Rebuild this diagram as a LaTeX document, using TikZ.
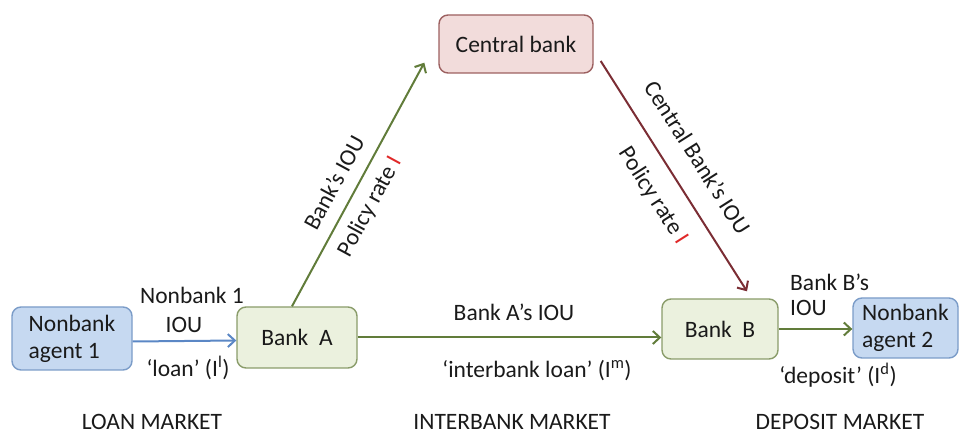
\documentclass[tikz,border=0pt]{standalone}
\usepackage{fontspec}
\setmainfont{Carlito}
\usetikzlibrary{arrows.meta,calc}
\definecolor{txt}{HTML}{1A1A1A}
\definecolor{nbfill}{HTML}{C6D9F1}
\definecolor{nbdraw}{HTML}{7B9CC8}
\definecolor{bkfill}{HTML}{EBF1DE}
\definecolor{bkdraw}{HTML}{8A9C6A}
\definecolor{cbfill}{HTML}{F2DCDB}
\definecolor{cbdraw}{HTML}{9C6060}
\definecolor{garr}{HTML}{617C3A}
\definecolor{barr}{HTML}{5B87C5}
\definecolor{rarr}{HTML}{7B2D34}
\definecolor{redI}{HTML}{E02828}
\begin{document}
\begin{tikzpicture}[x=1pt,y=-1pt,
  every node/.style={font=\fontsize{23.5}{27}\selectfont, text=txt},
  boxbase/.style={rounded corners=9pt, line width=1.4pt, inner sep=0pt},
  nbbox/.style={boxbase, draw=nbdraw, fill=nbfill, align=left},
  bankbox/.style={boxbase, draw=bkdraw, fill=bkfill},
  cbbox/.style={boxbase, draw=cbdraw, fill=cbfill},
  lbl/.style={inner sep=0pt},
  tipstyle/.style={-{Straight Barb[length=7pt,width=13pt,line width=2pt]}},
  garrow/.style={draw=garr, line width=2pt, tipstyle},
  barrow/.style={draw=barr, line width=2pt, tipstyle},
  rarrow/.style={draw=rarr, line width=2pt, tipstyle}]
\useasboundingbox (0,0) rectangle (961,435);

% boxes
\node[nbbox, minimum width=120pt, minimum height=63pt] (nb1) at (72,338.5) {Nonbank\\agent 1};
\node[bankbox, minimum width=120pt, minimum height=61pt] (bA) at (297,337.5) {Bank\ \ A};
\node[cbbox, minimum width=154pt, minimum height=58pt] (cb) at (516,44) {Central bank};
\node[bankbox, minimum width=116pt, minimum height=60pt] (bB) at (720,329) {Bank\ \ B};
\node[nbbox, minimum width=105pt, minimum height=60pt] (nb2) at (905.5,328) {Nonbank\\agent 2};

% connectors
\draw[barrow] ($(nb1.east)+(0,3)$) -- ($(bA.west)+(0,3)$);
\draw[garrow] (bA.east) -- (bA.east -| bB.west);
\draw[garrow] (bB.east) -- (bB.east -| nb2.west);

\coordinate (a1) at ($(bA.north)+(-5,0)$);
\coordinate (a2) at ($(cb.south west)+(-14,-11)$);
\draw[garrow] (a1) -- (a2)
  node[lbl, sloped, pos=.465, above=13pt] (lbA) {Bank’s IOU}
  node[lbl, sloped, pos=.45, below=10pt] (lpA) {Policy rate {\color{redI}I}};

\coordinate (c1) at ($(cb.east)+(7,17)$);
\coordinate (c2) at ($(bB.north)+(27,-7)$);
\draw[rarrow] (c1) -- (c2)
  node[lbl, sloped, pos=.49, above=21pt] (lcb) {Central Bank’s IOU}
  node[lbl, sloped, pos=.52, below=17pt] (lpB) {Policy rate {\color{redI}I}};

% labels
\node[lbl] (l1) at (192,295) {Nonbank 1};
\node[lbl] (l2) at (184,325) {IOU};
\node[lbl] (l3) at (188,368) {‘loan’ (I\textsuperscript{l})};
\node[lbl] (l4) at (514,312) {Bank A’s IOU};
\node[lbl] (l5) at (537,371) {‘interbank loan’ (I\textsuperscript{m})};
\node[lbl, anchor=west] (l6) at (790,282) {Bank B’s};
\node[lbl, anchor=west] (l7) at (790,308) {IOU};
\node[lbl] (l8) at (838,375) {‘deposit’ (I\textsuperscript{d})};
\node[lbl] (m1) at (152,422) {LOAN MARKET};
\node[lbl] (m2) at (512,422) {INTERBANK MARKET};
\node[lbl] (m3) at (840,422) {DEPOSIT MARKET};
\end{tikzpicture}
\end{document}
